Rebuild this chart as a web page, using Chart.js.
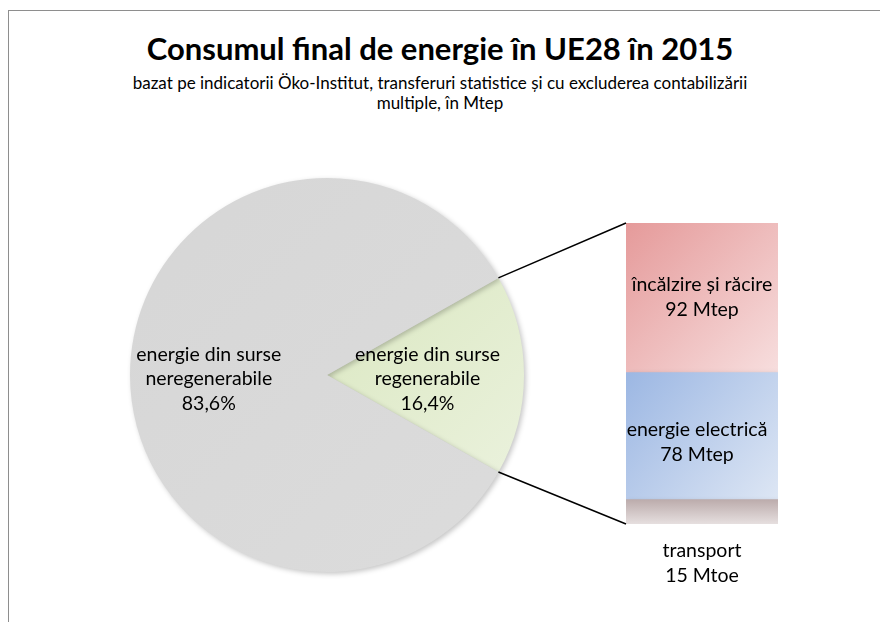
<!DOCTYPE html>
<html>
<head>
<meta charset="utf-8">
<script src="https://cdn.jsdelivr.net/npm/chart.js@4.4.1/dist/chart.umd.min.js"></script>
<style>
body { margin: 0; background: #fff; font-family: Lato, sans-serif; }
#wrap { position: relative; width: 880px; height: 622px; overflow: hidden; background: #fff; }
#frame { position: absolute; left: 8px; top: 10px; width: 1000px; height: 1000px; border: 1.5px solid #8e8e8e; }
canvas { position: absolute; left: 0; top: 0; }
#title { position: absolute; left: 0; width: 880px; top: 30px; line-height: 36px; text-align: center; font-weight: bold; font-size: 31px; color: #000; }
#sub { position: absolute; left: 60px; width: 760px; top: 73px; text-align: center; font-size: 17px; line-height: 20px; color: #000; }
</style>
</head>
<body>
<div id="wrap">
  <div id="frame"></div>
  <div id="title">Consumul final de energie în UE28 în 2015</div>
  <div id="sub">bazat pe indicatorii Öko-Institut, transferuri statistice și cu excluderea contabilizării<br>multiple, în Mtep</div>
  <canvas id="pieChart" width="880" height="622"></canvas>
  <canvas id="barChart" width="880" height="622"></canvas>
</div>
<script>
// pie: share of final energy consumption (%)
var pieLabels = [["energie din surse", "regenerabile"], ["energie din surse", "neregenerabile"]];
var pieValues = [16.4, 83.6];
var pieText = ["16,4%", "83,6%"];

// bar: renewable energy split (Mtep), bottom to top
var barLabels = [["transport"], ["energie electrică"], ["încălzire și răcire"]];
var barValues = [15, 78, 92];
var barUnits = ["Mtoe", "Mtep", "Mtep"];

var FONT = "19.5px Lato, sans-serif";

function shadowOn(ctx) {
  ctx.save();
  ctx.shadowColor = "rgba(0,0,0,0.22)";
  ctx.shadowBlur = 5;
  ctx.shadowOffsetX = 2;
  ctx.shadowOffsetY = 2;
}

var shadowPlugin = {
  id: 'shadow',
  beforeDatasetsDraw: function (chart) { shadowOn(chart.ctx); },
  afterDatasetsDraw: function (chart) { chart.ctx.restore(); }
};

function pieColor(context) {
  var chart = context.chart;
  var a = chart.chartArea;
  if (!a) return '#d9d9d9';
  var g = chart.ctx.createLinearGradient(a.left, a.top, a.right, a.bottom);
  if (context.dataIndex == 0) {
    g.addColorStop(0, '#cfe0ad');
    g.addColorStop(1, '#eef4e3');
  } else {
    g.addColorStop(0, '#d6d6d6');
    g.addColorStop(1, '#dcdcdc');
  }
  return g;
}

var pieLabelPlugin = {
  id: 'pieLabels',
  afterDatasetsDraw: function (chart) {
    var ctx = chart.ctx;
    var arcs = chart.getDatasetMeta(0).data;
    ctx.save();
    ctx.font = FONT;
    ctx.fillStyle = '#000';
    ctx.textAlign = 'center';
    ctx.textBaseline = 'middle';
    arcs.forEach(function (arc, i) {
      var mid = (arc.startAngle + arc.endAngle) / 2;
      var f = i == 0 ? 0.51 : 0.6;
      var cx = arc.x + Math.cos(mid) * arc.outerRadius * f;
      var cy = arc.y + Math.sin(mid) * arc.outerRadius * f + 4;
      var lines = pieLabels[i].concat([pieText[i]]);
      for (var k = 0; k < lines.length; k++) {
        ctx.fillText(lines[k], cx, cy + (k - (lines.length - 1) / 2) * 24.5);
      }
    });
    ctx.restore();
  }
};

var pieChart = new Chart(document.getElementById('pieChart'), {
  type: 'pie',
  data: {
    labels: pieLabels,
    datasets: [{
      data: pieValues,
      backgroundColor: pieColor,
      borderWidth: 0
    }]
  },
  options: {
    responsive: false,
    animation: false,
    rotation: 90 - pieValues[0] * 3.6 / 2,
    layout: { padding: { left: 130, right: 356, top: 178, bottom: 50 } },
    plugins: { legend: { display: false }, tooltip: { enabled: false }, title: { display: false } }
  },
  plugins: [shadowPlugin, pieLabelPlugin]
});

var barStops = [
  ['#bcacac', '#e6dfdf'],
  ['#9cb7e3', '#dde6f4'],
  ['#e59a9a', '#f7dede']
];

function barColor(context) {
  var chart = context.chart;
  var a = chart.chartArea;
  var i = context.datasetIndex;
  if (!a || !chart.scales.y) return barStops[i][0];
  var below = 0;
  for (var k = 0; k < i; k++) below += barValues[k];
  var yb = chart.scales.y.getPixelForValue(below);
  var yt = chart.scales.y.getPixelForValue(below + barValues[i]);
  var g;
  if (i == 0) g = chart.ctx.createLinearGradient(a.left, yt, a.left, yb);
  else g = chart.ctx.createLinearGradient(a.left, yt, a.right, yb);
  g.addColorStop(0, barStops[i][0]);
  g.addColorStop(1, barStops[i][1]);
  return g;
}

var barLabelPlugin = {
  id: 'barLabels',
  afterDatasetsDraw: function (chart) {
    var ctx = chart.ctx;
    ctx.save();
    ctx.font = FONT;
    ctx.fillStyle = '#000';
    ctx.textAlign = 'center';
    ctx.textBaseline = 'middle';
    for (var i = 0; i < barValues.length; i++) {
      var bar = chart.getDatasetMeta(i).data[0];
      var lines = barLabels[i].concat([barValues[i] + ' ' + barUnits[i]]);
      var cy;
      if (i == 0) cy = bar.base + 39;
      else if (i == 1) cy = (bar.y + bar.base) / 2 + 6;
      else cy = (bar.y + bar.base) / 2 - 1;
      var cx = i == 1 ? bar.x - 5 : bar.x;
      for (var k = 0; k < lines.length; k++) {
        ctx.fillText(lines[k], cx, cy + (k - (lines.length - 1) / 2) * 25);
      }
    }
    // connector lines from the renewable slice to the bar
    var arc = pieChart.getDatasetMeta(0).data[0];
    var top = chart.getDatasetMeta(barValues.length - 1).data[0];
    var bottom = chart.getDatasetMeta(0).data[0];
    var left = top.x - top.width / 2;
    ctx.strokeStyle = '#000';
    ctx.lineWidth = 1.5;
    ctx.beginPath();
    ctx.moveTo(arc.x + Math.cos(arc.startAngle) * arc.outerRadius, arc.y + Math.sin(arc.startAngle) * arc.outerRadius);
    ctx.lineTo(left, top.y);
    ctx.moveTo(arc.x + Math.cos(arc.endAngle) * arc.outerRadius, arc.y + Math.sin(arc.endAngle) * arc.outerRadius);
    ctx.lineTo(left, bottom.base);
    ctx.stroke();
    ctx.restore();
  }
};

var barChart = new Chart(document.getElementById('barChart'), {
  type: 'bar',
  data: {
    labels: ['regenerabile'],
    datasets: barValues.map(function (v, i) {
      return {
        label: barLabels[i].join(' '),
        data: [v],
        backgroundColor: barColor,
        borderWidth: 0,
        barPercentage: 1,
        categoryPercentage: 1
      };
    })
  },
  options: {
    responsive: false,
    animation: false,
    layout: { padding: { left: 626, right: 102, top: 223, bottom: 98 } },
    scales: {
      x: { stacked: true, display: false },
      y: { stacked: true, display: false, min: 0, max: barValues.reduce(function (a, b) { return a + b; }, 0) }
    },
    plugins: { legend: { display: false }, tooltip: { enabled: false }, title: { display: false } }
  },
  plugins: [shadowPlugin, barLabelPlugin]
});
</script>
</body>
</html>
